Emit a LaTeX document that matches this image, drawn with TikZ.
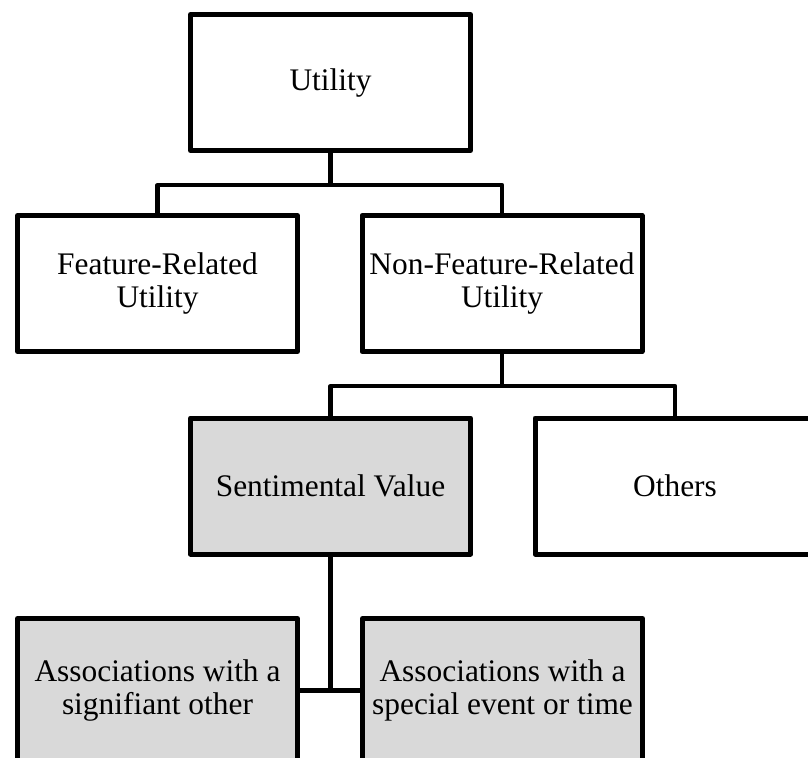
\documentclass[tikz,border=0pt]{standalone}
\usepackage{fontspec}
\setmainfont{Liberation Serif}
\begin{document}
\begin{tikzpicture}[x=0.5pt,y=-0.5pt,line join=round,
  box/.style={draw=black,line width=2.5pt,minimum width=140pt,minimum height=68pt,
    inner sep=0pt,align=center,font=\fontsize{15.7}{16.5}\selectfont},
  shaded/.style={box,fill=boxgray},
  link/.style={line width=2.1pt}]
\definecolor{boxgray}{HTML}{D9D9D9}
\path[use as bounding box,clip] (0,0) rectangle (808,757);
\node[box] (util) at (330.5,82.5) {Utility};
\node[box] (feat) at (157.5,283.5) {Feature-Related\\Utility};
\node[box] (nonfeat) at (502,283.5) {Non-Feature-Related\\Utility};
\node[shaded] (senti) at (330.5,486) {Sentimental Value};
\node[box] (others) at (675,486) {Others};
\node[shaded,minimum height=72pt] (assocA) at (157.5,690.5) {Associations with a\\signifiant other};
\node[shaded,minimum height=72pt] (assocB) at (502.5,690.5) {Associations with a\\special event or time};
\draw[link] (util.south) -- ++(0,32) -| (feat.north);
\draw[link] (util.south) -- ++(0,32) -| (nonfeat.north);
\draw[link] (nonfeat.south) -- ++(0,32) -| (senti.north);
\draw[link] (nonfeat.south) -- ++(0,32) -| (others.north);
\draw[link] (assocA.east) -- (assocB.west);
\draw[link] (senti.south) -- (senti.south |- assocA.east);
\end{tikzpicture}
\end{document}
